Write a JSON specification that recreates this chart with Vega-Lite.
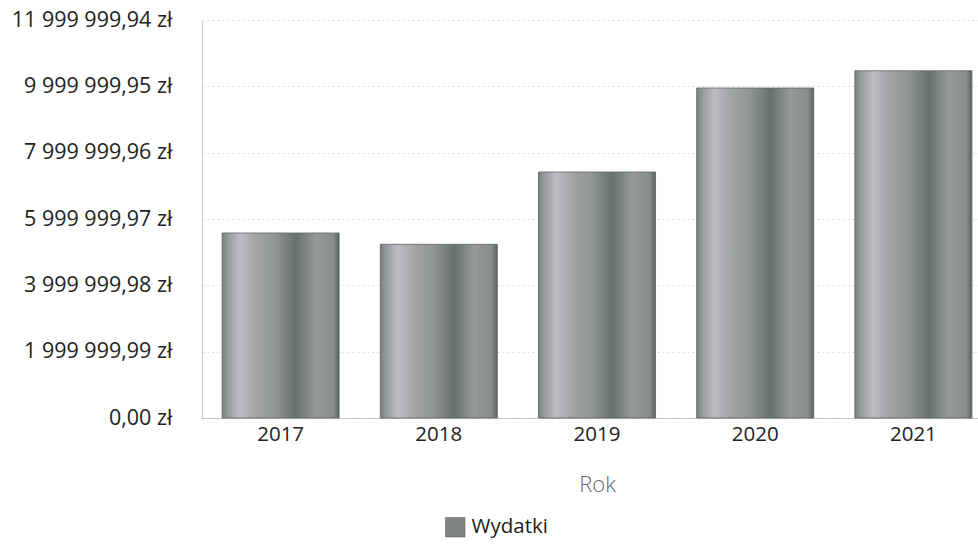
{
  "$schema": "https://vega.github.io/schema/vega-lite/v6.json",
  "width": 776,
  "height": 398,
  "autosize": {"type": "none"},
  "padding": {"left": 202, "top": 20, "right": 0, "bottom": 126},
  "config": {
    "locale": {"number": {"decimal": ",", "thousands": " ", "grouping": [3], "currency": ["", " zł"]}},
    "font": "Open Sans",
    "view": {"stroke": null}
  },
  "data": {
    "values": [
      {"rok": "2017", "wydatki": 5578000, "seria": "Wydatki"},
      {"rok": "2018", "wydatki": 5237000, "seria": "Wydatki"},
      {"rok": "2019", "wydatki": 7417000, "seria": "Wydatki"},
      {"rok": "2020", "wydatki": 9950000, "seria": "Wydatki"},
      {"rok": "2021", "wydatki": 10470000, "seria": "Wydatki"}
    ]
  },
  "encoding": {
    "x": {
      "field": "rok",
      "type": "ordinal",
      "title": "Rok",
      "scale": {"range": [0, 790], "paddingInner": 0.26, "paddingOuter": 0.127},
      "axis": {
        "labelAngle": 0,
        "labelFontSize": 20.5,
        "labelColor": "#222222",
        "labelPadding": 6,
        "ticks": false,
        "domainColor": "#999999",
        "domainDash": [1, 1],
        "domainWidth": 1,
        "titleFontSize": 22,
        "titleFontWeight": 300,
        "titleColor": "#666666",
        "titlePadding": 30
      }
    },
    "y": {
      "field": "wydatki",
      "type": "quantitative",
      "title": null,
      "scale": {"domain": [0, 11999999.94], "nice": false},
      "axis": {
        "values": [0, 1999999.99, 3999999.98, 5999999.97, 7999999.96, 9999999.95, 11999999.94],
        "format": "$,.2f",
        "labelFontSize": 21.5,
        "labelColor": "#222222",
        "labelPadding": 30,
        "ticks": false,
        "domainColor": "#999999",
        "domainDash": [1, 1],
        "domainWidth": 1,
        "gridColor": "#dddddd",
        "gridDash": [2, 3],
        "gridWidth": 1
      }
    }
  },
  "layer": [
    {
      "mark": {
        "type": "bar",
        "fill": {
          "gradient": "linear", "x1": 0, "y1": 0, "x2": 1, "y2": 0,
          "stops": [
            {"offset": 0, "color": "#7a7f7e"},
            {"offset": 0.05, "color": "#979a9b"},
            {"offset": 0.15, "color": "#bdbcc4"},
            {"offset": 0.3, "color": "#a0a3a2"},
            {"offset": 0.45, "color": "#929694"},
            {"offset": 0.63, "color": "#65716c"},
            {"offset": 0.8, "color": "#969a98"},
            {"offset": 0.95, "color": "#878d8a"},
            {"offset": 1, "color": "#5c6561"}
          ]
        },
        "stroke": "#5d6662",
        "strokeWidth": 0.8
      }
    },
    {
      "mark": {"type": "bar", "opacity": 0},
      "encoding": {
        "color": {
          "field": "seria",
          "type": "nominal",
          "scale": {"range": ["#7d8482"]},
          "legend": {
            "orient": "none",
            "legendX": 243,
            "legendY": 497,
            "title": null,
            "symbolType": "square",
            "symbolSize": 380,
            "labelFontSize": 20.5,
            "labelColor": "#222222",
            "labelOffset": 6,
            "encode": {
              "symbols": {
                "enter": {
                  "fill": {"value": {
                    "gradient": "linear", "x1": 0, "y1": 0, "x2": 1, "y2": 0,
                    "stops": [
                      {"offset": 0, "color": "#7f8483"},
                      {"offset": 0.2, "color": "#c3c2cb"},
                      {"offset": 0.45, "color": "#969a98"},
                      {"offset": 0.7, "color": "#66726d"},
                      {"offset": 1, "color": "#5f6864"}
                    ]
                  }}
                },
                "update": {
                  "fill": {"value": {
                    "gradient": "linear", "x1": 0, "y1": 0, "x2": 1, "y2": 0,
                    "stops": [
                      {"offset": 0, "color": "#7f8483"},
                      {"offset": 0.2, "color": "#c3c2cb"},
                      {"offset": 0.45, "color": "#969a98"},
                      {"offset": 0.7, "color": "#66726d"},
                      {"offset": 1, "color": "#5f6864"}
                    ]
                  }},
                  "opacity": {"value": 1},
                  "fillOpacity": {"value": 1},
                  "stroke": {"value": "#555555"},
                  "strokeWidth": {"value": 0.5}
                }
              }
            }
          }
        }
      }
    }
  ]
}
